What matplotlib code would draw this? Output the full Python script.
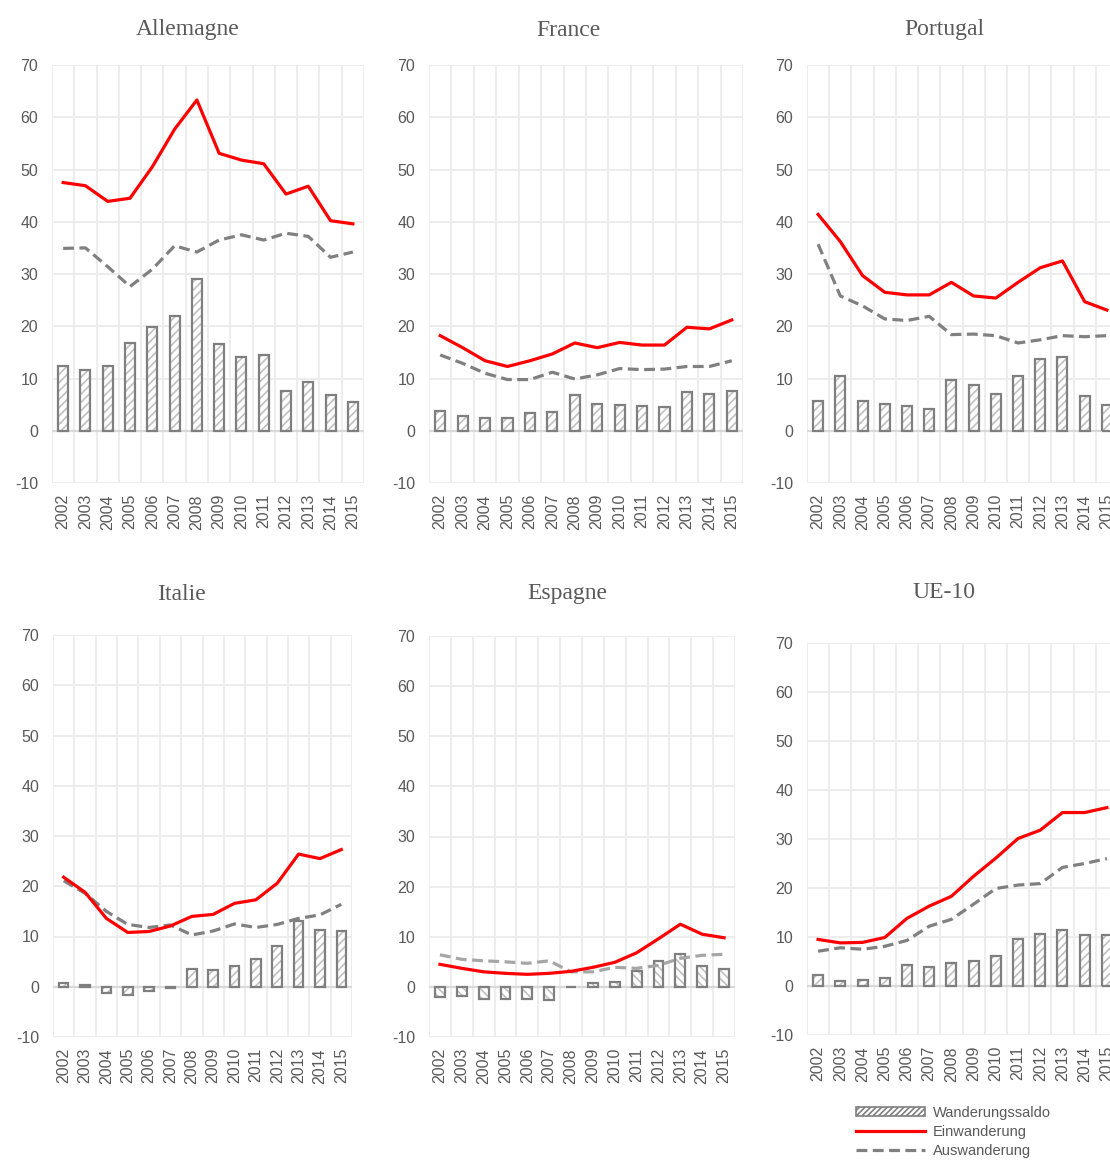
import matplotlib
matplotlib.use("Agg")
import matplotlib.pyplot as plt
import numpy as np
from matplotlib.patches import Patch
from matplotlib.lines import Line2D

plt.rcParams['font.family'] = ['Liberation Sans', 'DejaVu Sans']
plt.rcParams['axes.unicode_minus'] = False
plt.rcParams['hatch.linewidth'] = 1.2

years = [str(y) for y in range(2002, 2016)]

# Allemagne
de_saldo = [12.3, 11.7, 12.4, 16.8, 19.9, 22.0, 29.1, 16.6, 14.2, 14.5, 7.6, 9.4, 6.8, 5.5]
de_ein = [47.5, 46.9, 43.9, 44.5, 50.5, 57.7, 63.3, 53.1, 51.8, 51.1, 45.3, 46.8, 40.2, 39.6]
de_aus = [34.9, 35.0, 31.4, 27.6, 30.9, 35.4, 34.2, 36.5, 37.5, 36.5, 37.8, 37.2, 33.2, 34.2]

# France
fr_saldo = [3.7, 2.9, 2.5, 2.4, 3.4, 3.5, 6.8, 5.2, 4.9, 4.7, 4.6, 7.4, 7.0, 7.6]
fr_ein = [18.2, 15.9, 13.4, 12.3, 13.4, 14.7, 16.8, 15.9, 16.9, 16.4, 16.4, 19.8, 19.5, 21.2]
fr_aus = [14.5, 12.9, 11.0, 9.8, 9.8, 11.2, 9.9, 10.7, 11.9, 11.7, 11.8, 12.3, 12.3, 13.4]

# Portugal
pt_saldo = [5.7, 10.4, 5.6, 5.1, 4.8, 4.2, 9.8, 8.8, 7.1, 10.5, 13.8, 14.2, 6.7, 5.0]
pt_ein = [41.4, 36.2, 29.7, 26.5, 26.0, 26.0, 28.4, 25.8, 25.4, 28.4, 31.2, 32.5, 24.7, 23.1]
pt_aus = [35.7, 25.8, 23.9, 21.4, 21.1, 21.9, 18.4, 18.5, 18.2, 16.8, 17.4, 18.2, 18.0, 18.2]

# Italie
it_saldo = [0.7, 0.3, -1.3, -1.6, -0.8, -0.2, 3.6, 3.3, 4.2, 5.5, 8.2, 13.0, 11.3, 11.0]
it_ein = [21.8, 18.8, 13.6, 10.8, 11.0, 12.1, 14.0, 14.4, 16.6, 17.3, 20.6, 26.4, 25.5, 27.3]
it_aus = [21.1, 18.6, 15.0, 12.4, 11.8, 12.3, 10.3, 11.1, 12.5, 11.8, 12.4, 13.6, 14.3, 16.4]

# Espagne
es_saldo = [-2.0, -1.9, -2.5, -2.5, -2.5, -2.7, 0.05, 0.7, 1.0, 3.2, 5.2, 6.6, 4.2, 3.5]
es_ein = [4.5, 3.7, 3.0, 2.7, 2.5, 2.7, 3.1, 3.9, 4.9, 6.8, 9.6, 12.5, 10.5, 9.8]
es_aus = [6.4, 5.5, 5.2, 5.0, 4.7, 5.2, 3.0, 3.0, 3.9, 3.7, 4.3, 5.7, 6.3, 6.5]

# UE-10
eu_saldo = [2.2, 1.0, 1.2, 1.7, 4.2, 3.9, 4.6, 5.1, 6.1, 9.5, 10.7, 11.4, 10.5, 10.5]
eu_ein = [9.5, 8.8, 8.9, 9.9, 13.8, 16.3, 18.3, 22.4, 26.1, 30.1, 31.8, 35.4, 35.4, 36.4]
eu_aus = [7.1, 7.8, 7.5, 8.1, 9.3, 12.2, 13.6, 16.7, 19.9, 20.6, 20.9, 24.2, 25.0, 26.0]

W, H = 1110, 1160
fig = plt.figure(figsize=(W / 100, H / 100), dpi=100)

TXT = '#595959'
RED = '#ff0000'
GRAY = '#808080'
GRID = '#ececec'
DASH = (0, (3.4, 1.7))


def px_axes(left, top, right, bottom):
    return fig.add_axes([left / W, 1 - bottom / H, (right - left) / W, (bottom - top) / H])


def panel(rect, title, title_xy, saldo, ein, aus, hatch='////', aus_color=GRAY):
    ax = px_axes(*rect)
    x = np.arange(len(years))
    ax.set_xlim(-0.5, len(years) - 0.5)
    ax.set_ylim(-10, 70)
    for s in ax.spines.values():
        s.set_visible(False)
    # grid
    for yv in range(-10, 71, 10):
        if yv != 0:
            ax.axhline(yv, color=GRID, lw=1.3, zorder=0)
    for xv in np.arange(-0.5, len(years), 1.0):
        ax.axvline(xv, color=GRID, lw=1.3, zorder=0)
    # bars: hatch layer + outline layer
    ax.bar(x, saldo, width=0.45, color='white', edgecolor='#c0c0c0', hatch=hatch, lw=0, zorder=2)
    ax.bar(x, saldo, width=0.45, fill=False, edgecolor='#7f7f7f', lw=1.6, zorder=3)
    ax.axhline(0, color='#d9d9d9', lw=1.6, zorder=2.5)
    ax.plot(x, ein, color=RED, lw=2.3, zorder=5, solid_joinstyle='round')
    ax.plot(x, aus, color=aus_color, lw=2.3, ls=DASH, zorder=4)
    ax.set_yticks(range(-10, 71, 10))
    ax.set_xticks(x)
    ax.set_xticklabels(years, rotation=90)
    ax.tick_params(length=0, colors=TXT, labelsize=11.5)
    ax.tick_params(axis='y', pad=10)
    ax.tick_params(axis='x', pad=8)
    fig.text(title_xy[0] / W, 1 - title_xy[1] / H, title, ha='center', va='center',
             family=['Liberation Serif', 'DejaVu Serif'], fontsize=17, color=TXT)
    return ax


panel((52, 65, 364, 483), 'Allemagne', (188, 30), de_saldo, de_ein, de_aus)
panel((429, 65, 743, 483), 'France', (568, 30), fr_saldo, fr_ein, fr_aus)
panel((807, 65, 1118, 483), 'Portugal', (944, 30), pt_saldo, pt_ein, pt_aus)
panel((53, 635, 352, 1037), 'Italie', (181, 594), it_saldo, it_ein, it_aus)
panel((429, 636, 735, 1037), 'Espagne', (567, 594), es_saldo, es_ein, es_aus,
      hatch='\\\\\\\\', aus_color='#a6a6a6')
panel((807, 643, 1118, 1035), 'UE-10', (944, 592), eu_saldo, eu_ein, eu_aus)

handles = [
    Patch(facecolor='white', edgecolor='#7f7f7f', hatch='//////', lw=1.2),
    Line2D([], [], color=RED, lw=2.3),
    Line2D([], [], color=GRAY, lw=2.3, ls=DASH),
]
labels = ['Wanderungssaldo', 'Einwanderung', 'Auswanderung']
leg = fig.legend(handles, labels, loc='upper left', bbox_to_anchor=(856 / W, 1 - 1106 / H),
                 frameon=False, fontsize=10.5, handlelength=4.75, handleheight=0.6,
                 handletextpad=0.5, labelspacing=0.33, borderpad=0, borderaxespad=0)
for t in leg.get_texts():
    t.set_color(TXT)

fig.savefig('out.png', dpi=100)
